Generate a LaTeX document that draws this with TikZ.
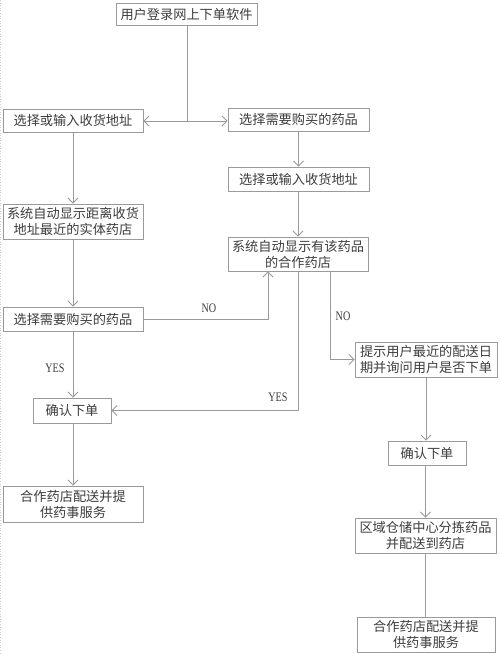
\documentclass[tikz,border=0pt]{standalone}
\usepackage{fontspec}
\setmainfont{Liberation Serif}
\newfontfamily\cjk{Noto Sans CJK SC}
\usetikzlibrary{arrows.meta}
\definecolor{linegray}{HTML}{9A9A9A}
\definecolor{textgray}{HTML}{3C3C3C}
\tikzset{
  box/.style={draw=linegray, line width=0.9pt, rectangle, inner sep=0pt, align=center,
    text=textgray, font=\cjk\fontsize{13.2}{16}\selectfont},
  conn/.style={draw=linegray, line width=0.9pt},
  arr/.style={conn, -{Straight Barb[length=5pt,width=10pt,line width=0.8pt]}},
  lbl/.style={text=textgray, font=\fontsize{13}{15}\selectfont, inner sep=0pt}
}
\newcommand{\narrowlbl}[1]{\scalebox{0.78}[1]{#1}}
\begin{document}
\begin{tikzpicture}[x=1pt,y=-1pt]
\useasboundingbox (0,0) rectangle (500,654);
\draw[linegray!50, dotted, line width=0.6pt] (0.6,0) -- (0.6,654);
% nodes
\node[box, minimum width=141pt, minimum height=22pt] (top) at (186.5,14) {用户登录网上下单软件};
\node[box, minimum width=140pt, minimum height=23pt] (L1) at (73,120.5) {选择或输入收货地址};
\node[box, minimum width=141pt, minimum height=23pt] (R1) at (298.5,119.5) {选择需要购买的药品};
\node[box, minimum width=141pt, minimum height=24pt] (R2) at (298.5,179) {选择或输入收货地址};
\node[box, minimum width=140pt, minimum height=34pt] (R3) at (298,254) {系统自动显示有该药品\\的合作药店};
\node[box, minimum width=140pt, minimum height=35pt] (L2) at (73,221.5) {系统自动显示距离收货\\地址最近的实体药店};
\node[box, minimum width=140pt, minimum height=24pt] (L3) at (73,319) {选择需要购买的药品};
\node[box, minimum width=78pt, minimum height=25pt] (CL) at (72,410.5) {确认下单};
\node[box, minimum width=140pt, minimum height=36pt] (L5) at (73,504) {合作药店配送并提\\供药事服务};
\node[box, minimum width=142pt, minimum height=35pt] (R4) at (426,359.5) {提示用户最近的配送日\\期并询问用户是否下单};
\node[box, minimum width=78pt, minimum height=24pt] (CR) at (427,453) {确认下单};
\node[box, minimum width=141pt, minimum height=35pt] (R6) at (425.5,535.5) {区域仓储中心分拣药品\\并配送到药店};
\node[box, minimum width=138pt, minimum height=35pt] (R7) at (426,634.5) {合作药店配送并提\\供药事服务};
\coordinate (j) at (187,121);
% connectors
\draw[conn] (top.south -| j) -- (j);
\draw[arr] (j) -- (j -| L1.east);
\draw[arr] (j) -- (j -| R1.west);
\draw[arr] (R1.south) -- (R1.south |- R2.north);
\draw[arr] (R2.south -| R3.north) -- (R3.north);
\draw[arr] (L1.south) -- (L2.north);
\draw[arr] (L2.south) -- (L3.north);
\draw[arr] (L3.east) -| ([xshift=-30pt]R3.south);
\node[lbl] (no1) at (209,308) {\narrowlbl{NO}};
\draw[arr] (R3.south) |- (CL.east);
\node[lbl] (yes1) at (278,397) {\narrowlbl{YES}};
\draw[arr] ([xshift=32pt]R3.south) |- (R4.west);
\node[lbl] (no2) at (343,316) {\narrowlbl{NO}};
\draw[arr] (L3.south) -- (L3.south |- CL.north);
\node[lbl] (yes2) at (55,368) {\narrowlbl{YES}};
\draw[arr] (L5.north |- CL.south) -- (L5.north);
\draw[arr] (R4.south) -- (R4.south |- CR.north);
\draw[arr] (R6.north |- CR.south) -- (R6.north);
\draw[conn] (R6.south) -- (R6.south |- R7.north);
\end{tikzpicture}
\end{document}
